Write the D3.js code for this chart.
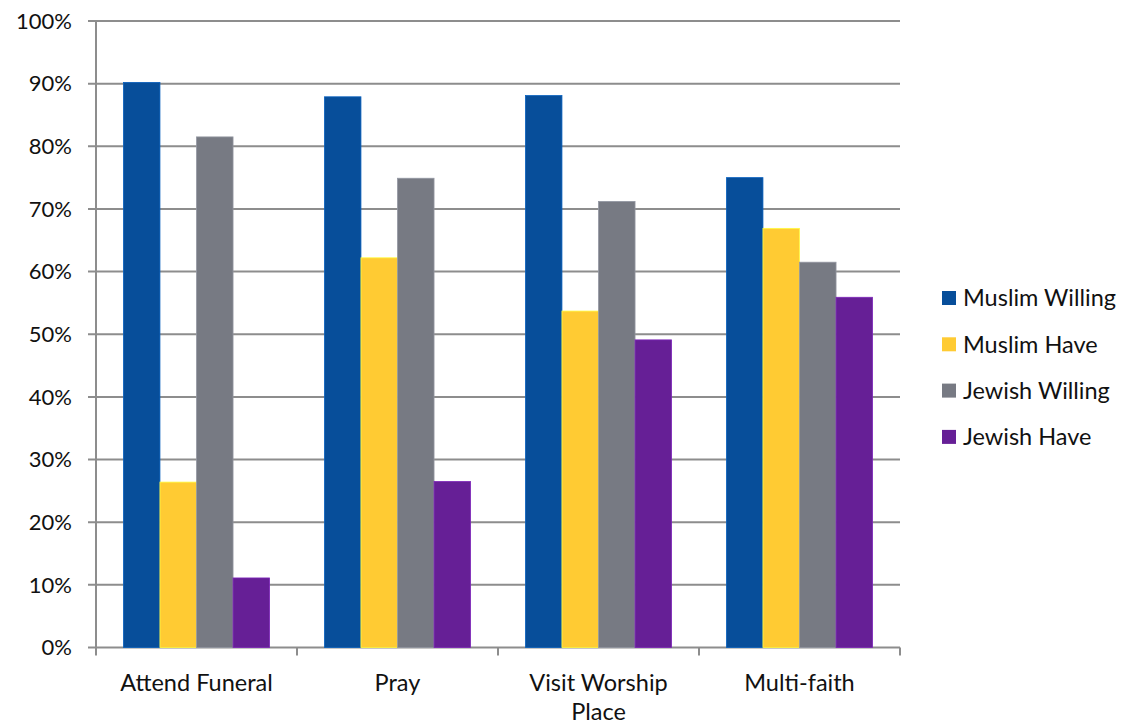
<!DOCTYPE html>
<html><head><meta charset="utf-8">
<script src="https://cdn.jsdelivr.net/npm/d3@7/dist/d3.min.js"></script>
<style>body{margin:0;background:#fff}svg text{font-family:Lato,"Open Sans",sans-serif;fill:#111}</style>
</head><body>
<svg id="c" width="1142" height="724"></svg>
<script>
const categories = [["Attend Funeral"], ["Pray"], ["Visit Worship", "Place"], ["Multi-faith"]];
const seriesNames = ["Muslim Willing", "Muslim Have", "Jewish Willing", "Jewish Have"];
const muslimWilling = [90.2, 87.9, 88.1, 75.0];
const muslimHave = [26.4, 62.2, 53.7, 66.9];
const jewishWilling = [81.5, 74.9, 71.2, 61.5];
const jewishHave = [11.1, 26.5, 49.1, 55.9];
const colors = ["#074E9A", "#FFCB33", "#777A83", "#661F96"];
const yTicks = [0,10,20,30,40,50,60,70,80,90,100];

const series = [muslimWilling, muslimHave, jewishWilling, jewishHave];
const svg = d3.select("#c");
const L = 96, R = 900, T = 21, B = 647.5;
const x0 = d3.scaleBand().domain(d3.range(categories.length)).range([L, R]).paddingInner(0).paddingOuter(0);
const bw = x0.bandwidth();
const barW = bw / 5.5;
const gOff = barW * 0.75;
const y = d3.scaleLinear().domain([0, 100]).range([B, T]);

svg.append("g").selectAll("line").data(yTicks).join("line")
  .attr("x1", L - 8).attr("x2", R).attr("y1", d => y(d)).attr("y2", d => y(d))
  .attr("stroke", "#8d8d8d").attr("stroke-width", 2);
svg.append("line").attr("x1", L).attr("x2", L).attr("y1", T).attr("y2", B)
  .attr("stroke", "#8d8d8d").attr("stroke-width", 2);
svg.append("g").selectAll("line").data(d3.range(categories.length + 1)).join("line")
  .attr("x1", i => L + i * bw).attr("x2", i => L + i * bw).attr("y1", B).attr("y2", B + 8)
  .attr("stroke", "#8d8d8d").attr("stroke-width", 2);

series.forEach((vals, si) => {
  svg.append("g").selectAll("rect").data(vals).join("rect")
    .attr("x", (d, i) => x0(i) + gOff + si * barW)
    .attr("width", barW)
    .attr("y", d => y(d))
    .attr("height", d => B - y(d))
    .attr("fill", colors[si])
    .attr("stroke", d3.color(colors[si]).brighter(0.6)).attr("stroke-width", 0.8);
});

svg.append("g").selectAll("text").data(yTicks).join("text")
  .attr("x", 72).attr("y", d => y(d)).attr("dy", "0.35em")
  .attr("text-anchor", "end").attr("font-size", 22)
  .text(d => d + "%");

const xl = svg.append("g").selectAll("text").data(categories).join("text")
  .attr("text-anchor", "middle").attr("font-size", 23.5)
  .attr("x", (d, i) => x0(i) + bw / 2).attr("y", 691);
xl.each(function(lines, i) {
  d3.select(this).selectAll("tspan").data(lines).join("tspan")
    .attr("x", x0(i) + bw / 2).attr("dy", (d, j) => j === 0 ? 0 : 29).text(d => d);
});

const lg = svg.append("g").selectAll("g").data(seriesNames).join("g")
  .attr("transform", (d, i) => `translate(942, ${298 + i * 46.3})`);
lg.append("rect").attr("x", 0).attr("y", -7).attr("width", 14).attr("height", 14)
  .attr("fill", (d, i) => colors[i]);
lg.append("text").attr("x", 21).attr("y", 0).attr("dy", "0.35em").attr("font-size", 23.5).text(d => d);
</script>
</body></html>
